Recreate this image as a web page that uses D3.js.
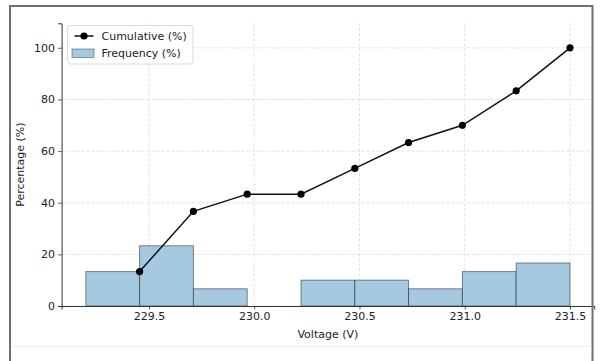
<!doctype html>
<html lang="en">
<head>
  <meta charset="utf-8">
  <title>Voltage histogram</title>
  <script src="https://d3js.org/d3.v7.min.js"></script>
  <style>
    body { margin: 0; background: #fff; }
    svg text { font-family: "DejaVu Sans", sans-serif; fill: #222; }
  </style>
</head>
<body>
  <div id="chart"></div>
  <script type="text/javascript">
	// bin edges (V), 9 bins from 229.2 to 231.5
	var binEdges = [229.2, 229.4556, 229.7111, 229.9667, 230.2222, 230.4778, 230.7333, 230.9889, 231.2444, 231.5];
	var frequency = [13.33, 23.33, 6.67, 0, 10, 10, 6.67, 13.33, 16.67];
	var cumulative = [13.33, 36.67, 43.33, 43.33, 53.33, 63.33, 70, 83.33, 100];
	var xTicks = [229.5, 230.0, 230.5, 231.0, 231.5];
	var yTicks = [0, 20, 40, 60, 80, 100];

	var width = 600, height = 361;
	// plot area edges (note: "top" is a reserved window global, so use other names)
	var plotL = 61.6, plotR = 594.2, plotT = 23.3, plotB = 306;

	var svg = d3.select('#chart')
				.append('svg')
				.attr('width', width)
				.attr('height', height);

	var x = d3.scaleLinear().domain([229.085, 231.615]).range([plotL, plotR]);
	var y = d3.scaleLinear().domain([0, 109.5]).range([plotB, plotT]);

	//grid lines
	svg.append('g').selectAll('line')
		.data(xTicks).enter().append('line')
		.attr('x1', function(d) {return x(d);}).attr('x2', function(d) {return x(d);})
		.attr('y1', plotT).attr('y2', plotB)
		.attr('stroke', '#d9d9d9').attr('stroke-dasharray', '3,2').attr('stroke-width', 0.8);
	svg.append('g').selectAll('line')
		.data(yTicks).enter().append('line')
		.attr('y1', function(d) {return y(d);}).attr('y2', function(d) {return y(d);})
		.attr('x1', plotL).attr('x2', plotR)
		.attr('stroke', '#d9d9d9').attr('stroke-dasharray', '3,2').attr('stroke-width', 0.8);

	//histogram bars
	svg.append('g').selectAll('rect')
		.data(frequency).enter().append('rect')
		.attr('x', function(d, i) {return x(binEdges[i]);})
		.attr('width', function(d, i) {return x(binEdges[i + 1]) - x(binEdges[i]);})
		.attr('y', function(d) {return y(d);})
		.attr('height', function(d) {return y(0) - y(d);})
		.attr('fill', '#a5c9e1')
		.attr('stroke', 'rgba(0,0,0,0.45)')
		.attr('stroke-width', 1);

	//axes
	var xAxis = svg.append('g')
		.attr('transform', 'translate(0,' + plotB + ')')
		.call(d3.axisBottom(x).tickValues(xTicks).tickFormat(d3.format('.1f')).tickSize(3.5).tickPadding(3));
	var yAxis = svg.append('g')
		.attr('transform', 'translate(' + plotL + ',0)')
		.call(d3.axisLeft(y).tickValues(yTicks).tickSize(3.5).tickPadding(3));
	[xAxis, yAxis].forEach(function(a) {
		a.selectAll('text').style('font-size', '11px').attr('fill', '#222');
		a.selectAll('line').attr('stroke', '#333').attr('stroke-width', 0.8);
		a.select('.domain').attr('stroke', '#333').attr('stroke-width', 1);
	});

	//cumulative line
	var pts = cumulative.map(function(d, i) {return [binEdges[i + 1], d];});
	svg.append('path')
		.datum(pts)
		.attr('fill', 'none')
		.attr('stroke', '#111')
		.attr('stroke-width', 1.5)
		.attr('d', d3.line().x(function(d) {return x(d[0]);}).y(function(d) {return y(d[1]);}));
	svg.append('g').selectAll('circle')
		.data(pts).enter().append('circle')
		.attr('cx', function(d) {return x(d[0]);})
		.attr('cy', function(d) {return y(d[1]);})
		.attr('r', 3.6)
		.attr('fill', '#000');

	//labels
	svg.append('text')
		.attr('x', (plotL + plotR) / 2).attr('y', 338)
		.attr('text-anchor', 'middle').style('font-size', '11px')
		.text('Voltage (V)');
	svg.append('text')
		.attr('transform', 'translate(24,' + (plotT + plotB) / 2 + ') rotate(-90)')
		.attr('text-anchor', 'middle').style('font-size', '11px')
		.text('Percentage (%)');

	//legend
	var lg = svg.append('g').attr('transform', 'translate(67.5,25.5)');
	lg.append('rect')
		.attr('width', 125.5).attr('height', 38.5).attr('rx', 2.5)
		.attr('fill', 'rgba(255,255,255,0.85)').attr('stroke', '#d0d0d0').attr('stroke-width', 0.8);
	lg.append('line').attr('x1', 7).attr('x2', 26).attr('y1', 10.5).attr('y2', 10.5)
		.attr('stroke', '#111').attr('stroke-width', 1.5);
	lg.append('circle').attr('cx', 16.5).attr('cy', 10.5).attr('r', 3.6).attr('fill', '#000');
	lg.append('rect').attr('x', 4.5).attr('y', 23.5).attr('width', 22).attr('height', 8.5)
		.attr('fill', '#a5c9e1').attr('stroke', 'rgba(0,0,0,0.45)').attr('stroke-width', 0.8);
	lg.append('text').attr('x', 34).attr('y', 14.5).style('font-size', '11px').text('Cumulative (%)');
	lg.append('text').attr('x', 34).attr('y', 31.5).style('font-size', '11px').text('Frequency (%)');

	//outer frame of the picture
	svg.append('line').attr('x1', 12).attr('x2', 591).attr('y1', 346.5).attr('y2', 346.5)
		.attr('stroke', '#f0f0f0').attr('stroke-width', 1);
	svg.append('path')
		.attr('d', 'M10,370 V6 H592.5 V370')
		.attr('fill', 'none').attr('stroke', '#707070').attr('stroke-width', 2);
  </script>
</body>
</html>
